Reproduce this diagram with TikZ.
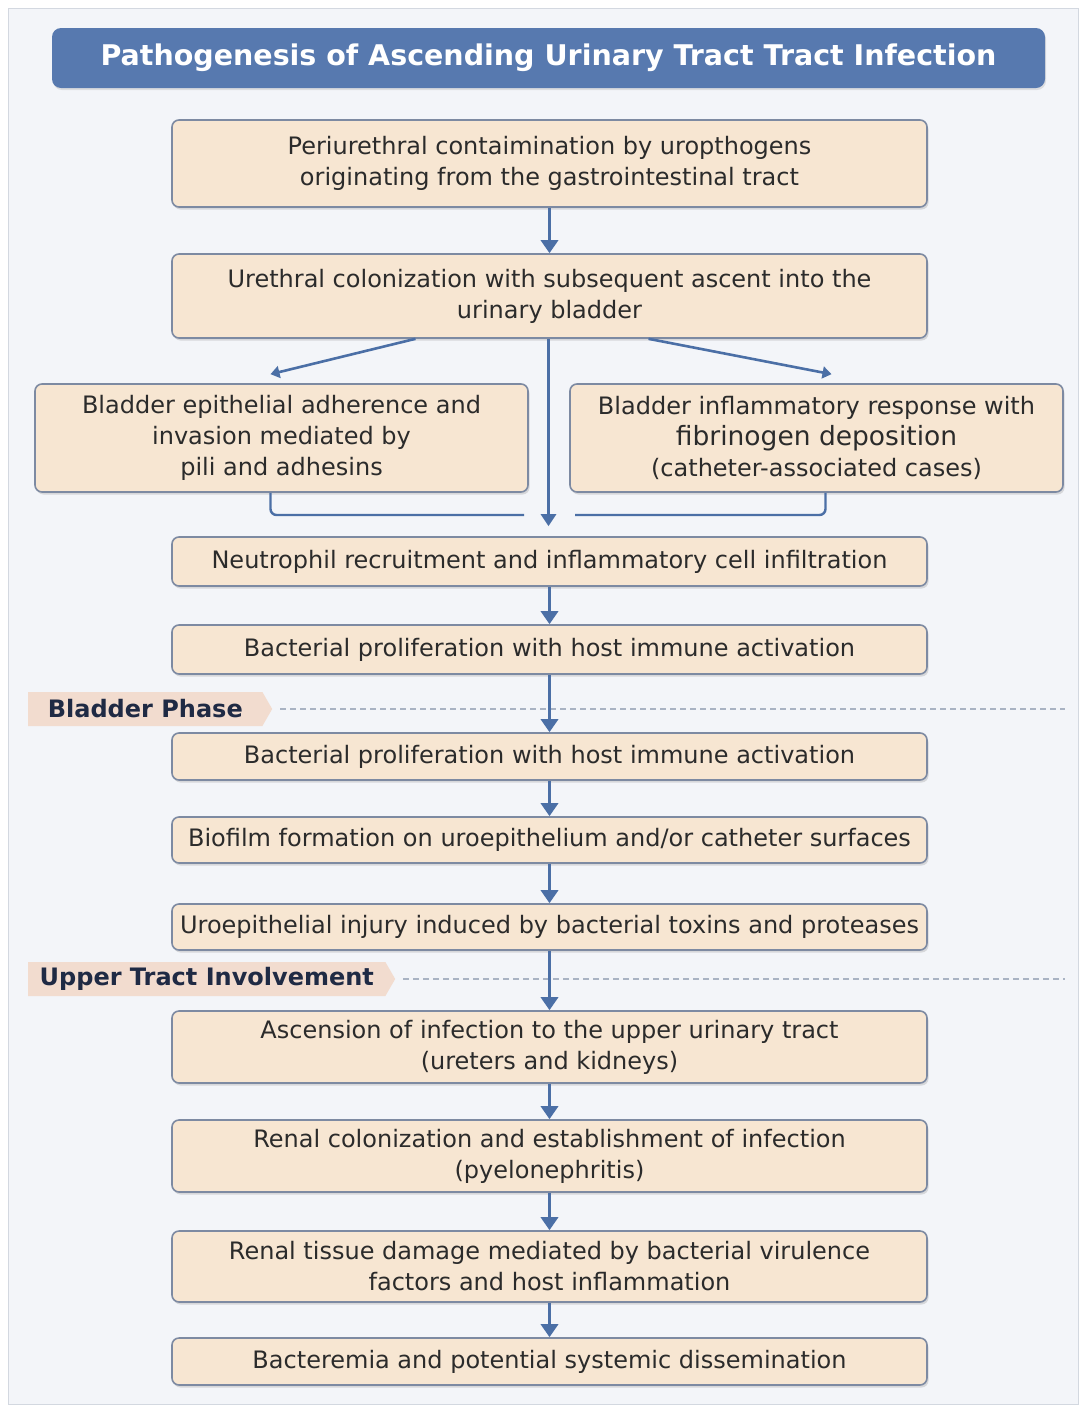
\documentclass[tikz,border=0pt]{standalone}
\usepackage{fontspec}
\setmainfont{DejaVu Sans}
\usetikzlibrary{arrows.meta,shadows,shapes.symbols}
\definecolor{bg}{HTML}{F3F5F9}
\definecolor{panelline}{HTML}{D3D8E0}
\definecolor{titleblue}{HTML}{5779AF}
\definecolor{boxfill}{HTML}{F7E6D2}
\definecolor{boxline}{HTML}{7D8AA2}
\definecolor{arrowblue}{HTML}{4B6FA6}
\definecolor{tagfill}{HTML}{F2DCCF}
\definecolor{tagtext}{HTML}{1F2A44}
\definecolor{txt}{HTML}{2B2B2B}
\definecolor{dashc}{HTML}{A9B3C3}
\begin{document}
\begin{tikzpicture}[x=1pt,y=-1pt,
  stepbox/.style={draw=boxline, line width=1.6pt, fill=boxfill, rounded corners=7pt,
    align=center, font=\fontsize{24}{31}\selectfont, text=txt, minimum width=755pt,
    drop shadow={shadow xshift=1.5pt, shadow yshift=-2.5pt, opacity=0.25}},
  sidebox/.style={stepbox, minimum width=493pt, minimum height=108pt},
  flow/.style={draw=arrowblue, line width=3.5pt, -{Triangle[length=13pt,width=17pt]}},
  branch/.style={draw=arrowblue, line width=2.6pt, -{Triangle[length=9pt,width=12pt]}},
  centreflow/.style={draw=arrowblue, line width=2.6pt, -{Triangle[length=12pt,width=15pt]}},
  bracket/.style={draw=arrowblue, line width=2.4pt, rounded corners=6pt},
  phasetag/.style={signal, signal to=east, signal pointer angle=120, fill=tagfill,
    text=tagtext, font=\fontsize{24}{28}\selectfont\bfseries, inner xsep=10pt,
    minimum height=34pt, anchor=west},
  phaseline/.style={draw=dashc, line width=1.2pt, dash pattern=on 6pt off 4pt}
]
\useasboundingbox (0,0) rectangle (1081,1406);
\fill[white] (0,0) rectangle (1081,1406);
\draw[fill=bg, draw=panelline, line width=1pt] (8,8) rectangle (1078,1404);

% title
\node[fill=titleblue, rounded corners=9pt, minimum width=993pt, minimum height=60pt,
  text=white, font=\fontsize{28.5}{34}\selectfont\bfseries,
  drop shadow={shadow xshift=1pt, shadow yshift=-2pt, opacity=0.2}]
  (title) at (548.5,58) {Pathogenesis of Ascending Urinary Tract Tract Infection};

% main boxes
\node[stepbox, minimum height=87pt] (b1) at (549.5,163.5)
  {Periurethral contaimination by uropthogens\\originating from the gastrointestinal tract};
\node[stepbox, minimum height=84pt] (b2) at (549.5,296)
  {Urethral colonization with subsequent ascent into the\\urinary bladder};
\node[sidebox] (b3) at (281.5,438)
  {Bladder epithelial adherence and\\invasion mediated by\\pili and adhesins};
\node[sidebox] (b4) at (816.5,438)
  {Bladder inflammatory response with\\{\fontsize{26.5}{30}\selectfont fibrinogen deposition}\\(catheter-associated cases)};
\node[stepbox, minimum height=49pt] (b5) at (549.5,561.5)
  {Neutrophil recruitment and inflammatory cell infiltration};
\node[stepbox, minimum height=49pt] (b6) at (549.5,649.5)
  {Bacterial proliferation with host immune activation};
\node[stepbox, minimum height=47pt] (b7) at (549.5,756.5)
  {Bacterial proliferation with host immune activation};
\node[stepbox, minimum height=46pt] (b8) at (549.5,840)
  {Biofilm formation on uroepithelium and/or catheter surfaces};
\node[stepbox, minimum height=46pt] (b9) at (549.5,927)
  {Uroepithelial injury induced by bacterial toxins and proteases};
\node[stepbox, minimum height=72pt] (b10) at (549.5,1047)
  {Ascension of infection to the upper urinary tract\\(ureters and kidneys)};
\node[stepbox, minimum height=72pt] (b11) at (549.5,1156)
  {Renal colonization and establishment of infection\\(pyelonephritis)};
\node[stepbox, minimum height=71pt] (b12) at (549.5,1266.5)
  {Renal tissue damage mediated by bacterial virulence\\factors and host inflammation};
\node[stepbox, minimum height=47pt] (b13) at (549.5,1361.5)
  {Bacteremia and potential systemic dissemination};

% phase labels
\node[phasetag, minimum width=244pt] (ph1) at (28,709) {Bladder Phase};
\node[phasetag, minimum width=367pt] (ph2) at (28,979) {Upper Tract Involvement};
\coordinate (ph1end) at (1065,709);
\coordinate (ph2end) at (1065,979);
\draw[phaseline] ([xshift=8pt]ph1.east) -- (ph1end);
\draw[phaseline] ([xshift=8pt]ph2.east) -- (ph2end);

% connectors
\draw[flow] (b1.south) -- (b2.north);
\draw[branch] ([xshift=-134pt]b2.south) -- ([xshift=-11pt,yshift=9pt]b3.north);
\draw[branch] ([xshift=99pt]b2.south) -- ([xshift=15pt,yshift=9pt]b4.north);
\coordinate (jl) at (524,515);
\coordinate (jr) at (575,515);
\draw[bracket] ([xshift=-11pt]b3.south) |- (jl);
\draw[bracket] ([xshift=9pt]b4.south) |- (jr);
\draw[centreflow] ([xshift=-1pt]b2.south) -- ([xshift=-1pt,yshift=10pt]b5.north);
\draw[flow] (b5.south) -- (b6.north);
\draw[flow] (b6.south) -- (b7.north);
\draw[flow] (b7.south) -- (b8.north);
\draw[flow] (b8.south) -- (b9.north);
\draw[flow] (b9.south) -- (b10.north);
\draw[flow] (b10.south) -- (b11.north);
\draw[flow] (b11.south) -- (b12.north);
\draw[flow] (b12.south) -- (b13.north);
\end{tikzpicture}
\end{document}
